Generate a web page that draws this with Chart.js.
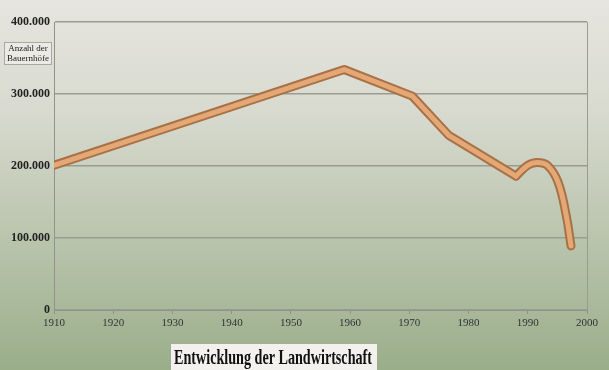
<!DOCTYPE html>
<html>
<head>
<meta charset="utf-8">
<script src="https://cdn.jsdelivr.net/npm/chart.js@4"></script>
<style>
html,body{margin:0;padding:0;background:#c8cfbe;}
#wrap{width:609px;height:370px;position:relative;}
</style>
</head>
<body>
<div id="wrap"><canvas id="c" width="609" height="370"></canvas></div>
<script>
const years = [1910, 1959, 1970.5, 1976.6, 1988, 1990, 1991.6, 1993.3, 1995.1, 1996.5, 1997.3];
const farms = [201000, 334000, 297000, 243000, 186000, 201000, 205000, 201000, 178000, 131000, 89000];
const xTicks = [1910, 1920, 1930, 1940, 1950, 1960, 1970, 1980, 1990, 2000];
const yTicks = [0, 100000, 200000, 300000, 400000];
const chartTitle = 'Entwicklung der Landwirtschaft';
const axisLabel = ['Anzahl der', 'Bauernhöfe'];

const points = years.map((y, i) => ({x: y, y: farms[i]}));
const straightPart = points.slice(0, 5);
const curvedPart = points.slice(4);

function fmt(v) {
  return String(v).replace(/\B(?=(\d{3})+(?!\d))/g, '.');
}

const decor = {
  id: 'decor',
  beforeDraw(chart) {
    const ctx = chart.ctx;
    const g = ctx.createLinearGradient(0, 0, 0, chart.height);
    g.addColorStop(0, '#e6e5df');
    g.addColorStop(0.3, '#d8dacf');
    g.addColorStop(1, '#9aae8a');
    ctx.save();
    ctx.fillStyle = g;
    ctx.fillRect(0, 0, chart.width, chart.height);
    ctx.restore();
  },
  afterDraw(chart) {
    const ctx = chart.ctx;
    const a = chart.chartArea;
    ctx.save();
    ctx.strokeStyle = '#9a9c92';
    ctx.lineWidth = 1;
    ctx.beginPath();
    ctx.moveTo(Math.round(a.right) + 0.5, a.top);
    ctx.lineTo(Math.round(a.right) + 0.5, a.bottom);
    ctx.stroke();
    ctx.fillStyle = '#ebeae4';
    ctx.fillRect(4, 42, 47, 22);
    ctx.strokeStyle = '#a8a8a0';
    ctx.strokeRect(4.5, 42.5, 47, 22);
    ctx.fillStyle = '#222';
    ctx.font = '9px "Liberation Serif", serif';
    ctx.textAlign = 'center';
    ctx.textBaseline = 'middle';
    ctx.fillText(axisLabel[0], 28, 49);
    ctx.fillText(axisLabel[1], 28, 59);
    ctx.fillStyle = '#f2f1ee';
    ctx.fillRect(171, 344, 206, 26);
    ctx.fillStyle = '#111';
    ctx.font = 'bold 21px "Liberation Serif", serif';
    ctx.textAlign = 'left';
    ctx.textBaseline = 'alphabetic';
    const w = ctx.measureText(chartTitle).width;
    const sx = 198 / w;
    ctx.translate(174, 364);
    ctx.scale(sx, 1);
    ctx.fillText(chartTitle, 0, 0);
    ctx.restore();
  }
};

function ds(data, color, width, tension, order) {
  return {
    data: data,
    borderColor: color,
    borderWidth: width,
    tension: tension,
    pointRadius: 0,
    borderCapStyle: 'round',
    borderJoinStyle: 'round',
    fill: false,
    order: order
  };
}

new Chart(document.getElementById('c'), {
  type: 'line',
  data: {
    datasets: [
      ds(straightPart, '#a97145', 9, 0, 4),
      ds(curvedPart, '#a97145', 9, 0.4, 3),
      ds(straightPart, '#e3a876', 5, 0, 2),
      ds(curvedPart, '#e3a876', 5, 0.4, 1)
    ]
  },
  options: {
    responsive: false,
    animation: false,
    events: [],
    layout: {padding: {left: 0, right: 22, top: 22, bottom: 0}},
    plugins: {legend: {display: false}, tooltip: {enabled: false}, title: {display: false}},
    scales: {
      x: {
        type: 'linear',
        min: 1910,
        max: 2000,
        afterBuildTicks(s) { s.ticks = xTicks.map(v => ({value: v})); },
        afterFit(s) { s.height = 60; },
        ticks: {
          callback: v => String(v),
          font: {family: '"Liberation Serif", serif', size: 11},
          color: '#333',
          padding: 3,
          maxRotation: 0
        },
        grid: {drawOnChartArea: false, drawTicks: true, tickLength: 4, color: '#8f9487'},
        border: {display: true, color: '#8f9487', width: 1}
      },
      y: {
        min: 0,
        max: 400000,
        afterBuildTicks(s) { s.ticks = yTicks.map(v => ({value: v})); },
        afterFit(s) { s.width = 54; },
        ticks: {
          callback: v => fmt(v),
          font: {family: '"Liberation Serif", serif', size: 12, weight: 'bold'},
          color: '#222',
          padding: 4
        },
        grid: {color: '#9a9c92', lineWidth: 1.5, drawTicks: false},
        border: {display: true, color: '#8f9487', width: 1}
      }
    }
  },
  plugins: [decor]
});
</script>
</body>
</html>
